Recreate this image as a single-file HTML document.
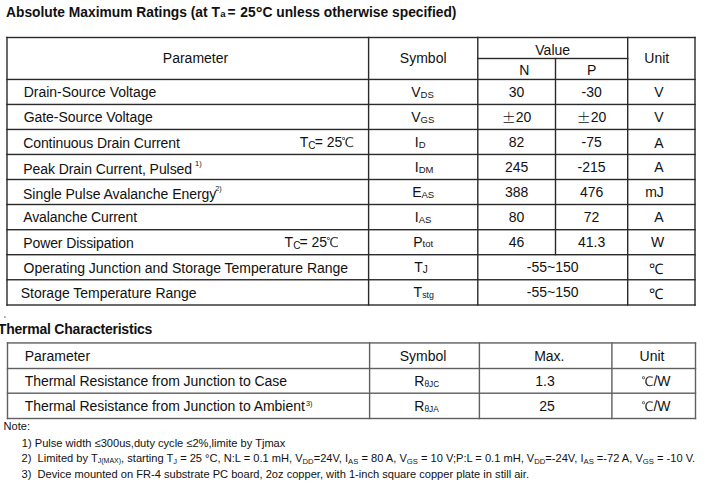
<!DOCTYPE html>
<html><head><meta charset="utf-8"><title>Absolute Maximum Ratings</title>
<style>
html,body{margin:0;padding:0;background:#fff;}
body{width:711px;height:484px;overflow:hidden;}
svg{display:block;}
text{font-family:"Liberation Sans", Arial, sans-serif;fill:#111;white-space:pre;}
</style></head><body>
<svg width="711" height="484" viewBox="0 0 711 484">
<rect x="0" y="0" width="711" height="484" fill="#fff"/>
<text x="6.0" y="17.0" font-size="13.8" font-weight="bold">Absolute Maximum Ratings (at T<tspan font-size="9.6" dx="0.4">a</tspan><tspan dx="1.9">= </tspan><tspan dx="0.9">25</tspan><tspan font-size="17" baseline-shift="-2.4">°</tspan>C unless otherwise specified)</text>
<rect x="6.3" y="36.8" width="689.4" height="1.4" fill="#2a2a2a"/>
<rect x="6.3" y="304.3" width="689.4" height="1.4" fill="#2a2a2a"/>
<rect x="6.3" y="78.75" width="689.4" height="1.4" fill="#2a2a2a"/>
<rect x="6.3" y="103.75" width="689.4" height="1.4" fill="#2a2a2a"/>
<rect x="6.3" y="128.75" width="689.4" height="1.4" fill="#2a2a2a"/>
<rect x="6.3" y="153.75" width="689.4" height="1.4" fill="#2a2a2a"/>
<rect x="6.3" y="178.8" width="689.4" height="1.4" fill="#2a2a2a"/>
<rect x="6.3" y="203.8" width="689.4" height="1.4" fill="#2a2a2a"/>
<rect x="6.3" y="229.0" width="689.4" height="1.4" fill="#2a2a2a"/>
<rect x="6.3" y="254.0" width="689.4" height="1.4" fill="#2a2a2a"/>
<rect x="6.3" y="279.05" width="689.4" height="1.4" fill="#2a2a2a"/>
<rect x="477.1" y="57.8" width="151.3" height="1.4" fill="#2a2a2a"/>
<rect x="6.3" y="36.8" width="1.4" height="268.9" fill="#2a2a2a"/>
<rect x="367.9" y="36.8" width="1.4" height="268.9" fill="#2a2a2a"/>
<rect x="477.1" y="36.8" width="1.4" height="268.9" fill="#2a2a2a"/>
<rect x="627.0" y="36.8" width="1.4" height="268.9" fill="#2a2a2a"/>
<rect x="694.3" y="36.8" width="1.4" height="268.9" fill="#2a2a2a"/>
<rect x="554.8" y="57.8" width="1.4" height="197.6" fill="#2a2a2a"/>
<text x="195.5" y="63.0" font-size="14.0" text-anchor="middle">Parameter</text>
<text x="423.2" y="63.0" font-size="14.0" text-anchor="middle">Symbol</text>
<text x="552.7" y="54.5" font-size="14.0" text-anchor="middle">Value</text>
<text x="524.4" y="75.3" font-size="14.0" text-anchor="middle">N</text>
<text x="591.6" y="75.0" font-size="14.0" text-anchor="middle">P</text>
<text x="656.8" y="63.4" font-size="14.0" text-anchor="middle">Unit</text>
<text x="23.7" y="97" font-size="14.0" textLength="132.58" lengthAdjust="spacing">Drain-Source Voltage</text>
<text x="23.7" y="122" font-size="14.0" textLength="128.98" lengthAdjust="spacing">Gate-Source Voltage</text>
<text x="23.2" y="148" font-size="14.0" textLength="156.65" lengthAdjust="spacing">Continuous Drain Current</text>
<text x="23.2" y="174" font-size="14.0" textLength="168.92" lengthAdjust="spacing">Peak Drain Current, Pulsed</text>
<text x="23.0" y="199" font-size="14.0" textLength="193.33" lengthAdjust="spacing">Single Pulse Avalanche Energy</text>
<text x="23.2" y="222" font-size="14.0" textLength="113.90" lengthAdjust="spacing">Avalanche Current</text>
<text x="23.2" y="248" font-size="14.0" textLength="110.56" lengthAdjust="spacing">Power Dissipation</text>
<text x="23.6" y="273" font-size="14.0" textLength="324.56" lengthAdjust="spacing">Operating Junction and Storage Temperature Range</text>
<text x="20.8" y="298" font-size="14.0" textLength="175.82" lengthAdjust="spacing">Storage Temperature Range</text>
<text x="195.1" y="165.8" font-size="7.5">1)</text>
<text x="215.2" y="190.5" font-size="7.3">2)</text>
<text x="299.8" y="147" font-size="14.0">T<tspan font-size="10" baseline-shift="-1.8">C</tspan><tspan dx="-0.9">=</tspan> 25<tspan font-family='"WenQuanYi Zen Hei", "Noto Sans CJK SC", sans-serif' font-size="13.5" fill="#3a3a3a" dx="-0.8">℃</tspan></text>
<text x="284.6" y="247" font-size="14.0">T<tspan font-size="10" baseline-shift="-1.8">C</tspan><tspan dx="-0.9">=</tspan> 25<tspan font-family='"WenQuanYi Zen Hei", "Noto Sans CJK SC", sans-serif' font-size="13.5" fill="#3a3a3a" dx="-0.8">℃</tspan></text>
<text x="411.2" y="97" font-size="14.0">V<tspan font-size="9.5" baseline-shift="-1.0">DS</tspan></text>
<text x="411.2" y="122" font-size="14.0">V<tspan font-size="9.5" baseline-shift="-1.0">GS</tspan></text>
<text x="414.8" y="147" font-size="14.0">I<tspan font-size="9.5" baseline-shift="-1.0">D</tspan></text>
<text x="414.8" y="172" font-size="14.0">I<tspan font-size="9.5" baseline-shift="-1.0">DM</tspan></text>
<text x="412.2" y="197" font-size="14.0">E<tspan font-size="9.5" baseline-shift="-1.0">AS</tspan></text>
<text x="414.8" y="222" font-size="14.0">I<tspan font-size="9.5" baseline-shift="-1.0">AS</tspan></text>
<text x="413.2" y="247" font-size="14.0">P<tspan font-size="9.5" baseline-shift="0">tot</tspan></text>
<text x="414.2" y="272" font-size="14.0">T<tspan font-size="10" baseline-shift="-1.0">J</tspan></text>
<text x="413.6" y="297" font-size="14.0">T<tspan font-size="8.8" baseline-shift="-1.0">stg</tspan></text>
<text x="516.6" y="97" font-size="14.0" text-anchor="middle">30</text>
<text x="591.6" y="97" font-size="14.0" text-anchor="middle">-30</text>
<text x="659" y="97" font-size="14.0" text-anchor="middle">V</text>
<text x="516.6" y="122" font-size="14.0" text-anchor="middle"><tspan font-family='"Noto Sans CJK SC", sans-serif' font-weight="300" baseline-shift="-1.2">±</tspan>20</text>
<text x="591.6" y="122" font-size="14.0" text-anchor="middle"><tspan font-family='"Noto Sans CJK SC", sans-serif' font-weight="300" baseline-shift="-1.2">±</tspan>20</text>
<text x="659" y="122" font-size="14.0" text-anchor="middle">V</text>
<text x="516.6" y="147" font-size="14.0" text-anchor="middle">82</text>
<text x="591.6" y="147" font-size="14.0" text-anchor="middle">-75</text>
<text x="659" y="148.3" font-size="14.0" text-anchor="middle">A</text>
<text x="516.6" y="172" font-size="14.0" text-anchor="middle">245</text>
<text x="591.6" y="172" font-size="14.0" text-anchor="middle">-215</text>
<text x="659" y="172" font-size="14.0" text-anchor="middle">A</text>
<text x="516.6" y="197" font-size="14.0" text-anchor="middle">388</text>
<text x="591.6" y="197" font-size="14.0" text-anchor="middle">476</text>
<text x="654.5" y="197" font-size="14.0" text-anchor="middle">mJ</text>
<text x="516.6" y="222" font-size="14.0" text-anchor="middle">80</text>
<text x="591.6" y="222" font-size="14.0" text-anchor="middle">72</text>
<text x="659" y="222" font-size="14.0" text-anchor="middle">A</text>
<text x="516.6" y="247" font-size="14.0" text-anchor="middle">46</text>
<text x="591.6" y="247" font-size="14.0" text-anchor="middle">41.3</text>
<text x="657.6" y="247" font-size="14.0" text-anchor="middle">W</text>
<text x="552.7" y="272" font-size="14.0" text-anchor="middle">-55~150</text>
<text x="656.4" y="273.5" font-size="14.5" text-anchor="middle" font-family='"Noto Sans CJK SC", sans-serif'>℃</text>
<text x="552.7" y="297" font-size="14.0" text-anchor="middle">-55~150</text>
<text x="656.4" y="298.5" font-size="14.5" text-anchor="middle" font-family='"Noto Sans CJK SC", sans-serif'>℃</text>
<text x="-2.2" y="333.7" font-size="14" font-weight="bold" textLength="154.6" lengthAdjust="spacing">Thermal Characteristics</text>
<rect x="4.3" y="316.5" width="1.2" height="1.2" fill="#333"/>
<rect x="6.8" y="342.25" width="689.4" height="1.4" fill="#606060"/>
<rect x="6.8" y="417.8" width="689.4" height="1.4" fill="#606060"/>
<rect x="6.8" y="367.8" width="689.4" height="1.4" fill="#606060"/>
<rect x="6.8" y="392.5" width="689.4" height="1.4" fill="#606060"/>
<rect x="6.8" y="342.25" width="1.4" height="76.95" fill="#606060"/>
<rect x="368.9" y="342.25" width="1.4" height="76.95" fill="#606060"/>
<rect x="478.7" y="342.25" width="1.4" height="76.95" fill="#606060"/>
<rect x="611.2" y="342.25" width="1.4" height="76.95" fill="#606060"/>
<rect x="694.8" y="342.25" width="1.4" height="76.95" fill="#606060"/>
<text x="24.7" y="360.5" font-size="14.0">Parameter</text>
<text x="423.1" y="360.5" font-size="14.0" text-anchor="middle">Symbol</text>
<text x="549.3" y="360.5" font-size="14.0" text-anchor="middle">Max.</text>
<text x="652" y="360.5" font-size="14.0" text-anchor="middle">Unit</text>
<text x="24.7" y="386" font-size="14.0" textLength="262.26" lengthAdjust="spacing">Thermal Resistance from Junction to Case</text>
<text x="24.7" y="411" font-size="14.0" textLength="280.07" lengthAdjust="spacing">Thermal Resistance from Junction to Ambient</text>
<text x="305.9" y="406.2" font-size="7.3">3)</text>
<text x="414.3" y="386" font-size="14.0">R<tspan font-size="8.3" baseline-shift="-1.0">θJC</tspan></text>
<text x="414.3" y="411" font-size="14.0">R<tspan font-size="8.3" baseline-shift="-1.0">θJA</tspan></text>
<text x="545" y="386" font-size="14.0" text-anchor="middle">1.3</text>
<text x="547" y="411" font-size="14.0" text-anchor="middle">25</text>
<text x="656" y="386" font-size="14.0" text-anchor="middle"><tspan font-family='"WenQuanYi Zen Hei", "Noto Sans CJK SC", sans-serif' font-size="13" fill="#333">℃</tspan>/W</text>
<text x="656" y="411" font-size="14.0" text-anchor="middle"><tspan font-family='"WenQuanYi Zen Hei", "Noto Sans CJK SC", sans-serif' font-size="13" fill="#333">℃</tspan>/W</text>
<text x="3.5" y="430.0" font-size="11.1">Note:</text>
<text x="21.8" y="446.6" font-size="11.1">1) Pulse width ≤300us,duty cycle ≤2%,limite by Tjmax</text>
<text x="21.5" y="461.7" font-size="11.1" xml:space="preserve">2)  Limited by T<tspan font-size="7.0" baseline-shift="-1">J(MAX)</tspan>, starting T<tspan font-size="7.5" baseline-shift="-1.8">J</tspan> = 25 °C, N:L = 0.1 mH, V<tspan font-size="7.7" baseline-shift="-1.5">DD</tspan>=24V, I<tspan font-size="7.7" baseline-shift="-1.5">AS</tspan> = 80 A, V<tspan font-size="7.7" baseline-shift="-1.5">GS</tspan> = 10 V;P:L = 0.1 mH, V<tspan font-size="7.7" baseline-shift="-1.5">DD</tspan>=-24V, I<tspan font-size="7.7" baseline-shift="-1.5">AS</tspan> =-72 A, V<tspan font-size="7.7" baseline-shift="-1.5">GS</tspan> = -10 V.</text>
<text x="21.5" y="477.6" font-size="11.1" xml:space="preserve">3)  Device mounted on FR-4 substrate PC board, 2oz copper, with 1-inch square copper plate in still air.</text>
</svg>
</body></html>
